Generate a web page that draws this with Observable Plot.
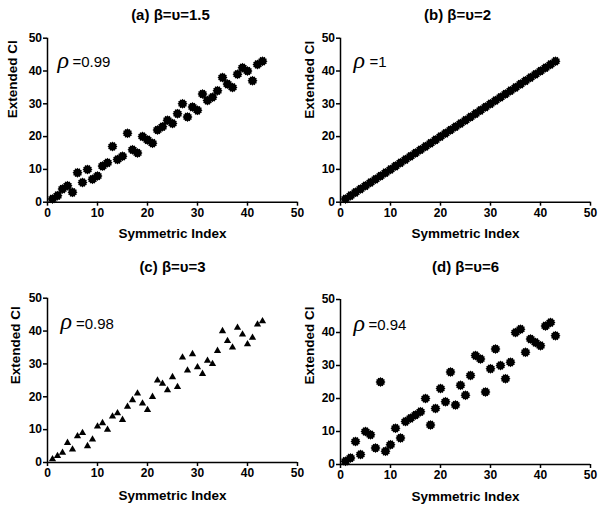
<!DOCTYPE html>
<html><head><meta charset="utf-8">
<script src="https://cdn.jsdelivr.net/npm/d3@7"></script>
<script src="https://cdn.jsdelivr.net/npm/@observablehq/plot@0.6"></script>
<style>
body{margin:0;background:#fff;}
#wrap{position:relative;width:603px;height:510px;background:#fff;overflow:hidden}
#wrap svg{position:absolute;}
</style></head><body><div id="wrap"></div>
<script>
// ---- data ----
const symmetricIndex = [1,2,3,4,5,6,7,8,9,10,11,12,13,14,15,16,17,18,19,20,21,22,23,24,25,26,27,28,29,30,31,32,33,34,35,36,37,38,39,40,41,42,43];
const extendedA = [1,2,4,5,3,9,6,10,7,8,11,12,17,13,14,21,16,15,20,19,18,22,23,25,24,27,30,26,29,28,33,31,32,34,38,36,35,39,41,40,37,42,43];
const extendedB = [1,2,3,4,5,6,7,8,9,10,11,12,13,14,15,16,17,18,19,20,21,22,23,24,25,26,27,28,29,30,31,32,33,34,35,36,37,38,39,40,41,42,43];
const extendedC = [1,2,3,6,4,8,9,5,7,11,12,10,14,15,13,17,19,21,18,16,20,25,24,22,26,23,32,28,33,29,27,31,30,34,40,37,35,41,39,36,38,42,43];
const extendedD = [1,2,7,3,10,9,5,25,4,6,11,8,13,14,15,16,20,12,17,23,19,28,18,24,21,27,33,32,22,29,35,30,26,31,40,41,34,38,37,36,42,43,39];
const titles = ["(a) β=υ=1.5", "(b) β=υ=2", "(c) β=υ=3", "(d) β=υ=6"];
const rhoValues = ["=0.99", "=1", "=0.98", "=0.94"];
const xTicks = [0, 10, 20, 30, 40, 50];
const yTicks = [0, 10, 20, 30, 40, 50];
const xLabel = "Symmetric Index";
const yLabel = "Extended CI";

// jagged "asterisk" disc symbol
const starSymbol = {
  draw(context, size) {
    const R = Math.sqrt(size / Math.PI), n = 12, r0 = R * 0.78;
    for (let i = 0; i < 2 * n; i++) {
      const a = i * Math.PI / n, rr = i % 2 ? r0 : R;
      const px = rr * Math.sin(a), py = -rr * Math.cos(a);
      if (i) context.lineTo(px, py); else context.moveTo(px, py);
    }
    context.closePath();
  }
};

const panels = [
  {values: extendedA, left: 0,   top: 0,   mt: 37.7, mb: 48.3, symbol: starSymbol, r: 5,
   tdx: -2, tdy: -22.7, ydx: -35, ydy: -2, xdy: 31.3, rdx: 10, edx: 25, rdy: 24.3},
  {values: extendedB, left: 293, top: 0,   mt: 37.7, mb: 48.3, symbol: starSymbol, r: 5,
   tdx: -8, tdy: -22.7, ydx: -31, ydy: -1.4, xdy: 31.3, rdx: 13, edx: 29, rdy: 24.3},
  {values: extendedC, left: 0,   top: 250, mt: 47.7, mb: 38,   symbol: "triangle", r: 2.7,
   tdx: 0, tdy: -30.7, ydx: -32, ydy: 4, xdy: 33, rdx: 13, edx: 28.5, rdy: 25.6},
  {values: extendedD, left: 293, top: 250, mt: 49,   mb: 36,   symbol: starSymbol, r: 5,
   tdx: 0, tdy: -32, ydx: -31, ydy: 2.5, xdy: 32, rdx: 13, edx: 28, rdy: 26}
];

const wrap = document.getElementById("wrap");
panels.forEach((p, k) => {
  const rows = symmetricIndex.map((s, i) => ({s, e: p.values[i]}));
  const chart = Plot.plot({
    width: 300, height: 250,
    marginLeft: 47, marginRight: 3, marginTop: p.mt, marginBottom: p.mb,
    x: {domain: [0, 50]},
    y: {domain: [0, 50]},
    style: {fontFamily: "'Liberation Sans', Arial, sans-serif", fontSize: "12px", fontWeight: "bold", background: "transparent", overflow: "visible", color: "black"},
    marks: [
      Plot.axisX(xTicks, {tickSize: 4, tickPadding: 2, strokeWidth: 1.5, label: null, fontSize: 12, fontWeight: "bold"}),
      Plot.axisY(yTicks, {tickSize: 4, tickPadding: 1.5, strokeWidth: 1.5, label: null, fontSize: 12, fontWeight: "bold"}),
      Plot.ruleY([0], {stroke: "black", strokeWidth: 1.5}),
      Plot.ruleX([0], {stroke: "black", strokeWidth: 1.5}),
      Plot.dot(rows, {x: "s", y: "e", r: p.r, symbol: () => p.symbol, fill: "black", stroke: "none"}),
      Plot.text([titles[k]], {frameAnchor: "top", dx: p.tdx, dy: p.tdy, lineAnchor: "middle", fontSize: 15, fontWeight: "bold"}),
      Plot.text([xLabel], {frameAnchor: "bottom", dy: p.xdy, lineAnchor: "middle", fontSize: 13.5, fontWeight: "bold"}),
      Plot.text([yLabel], {frameAnchor: "left", dx: p.ydx, dy: p.ydy, rotate: -90, lineAnchor: "middle", fontSize: 13.5, fontWeight: "bold"}),
      Plot.text(["ρ"], {frameAnchor: "top-left", dx: p.rdx, dy: p.rdy - 2, textAnchor: "start", lineAnchor: "middle", fontSize: 24, fontStyle: "italic", fontWeight: "normal", fontFamily: "'Liberation Serif', serif"}),
      Plot.text([rhoValues[k]], {frameAnchor: "top-left", dx: p.edx, dy: p.rdy, textAnchor: "start", lineAnchor: "middle", fontSize: 15, fontWeight: "normal"})
    ]
  });
  chart.style.left = p.left + "px";
  chart.style.top = p.top + "px";
  wrap.appendChild(chart);
});
</script>
</body></html>
